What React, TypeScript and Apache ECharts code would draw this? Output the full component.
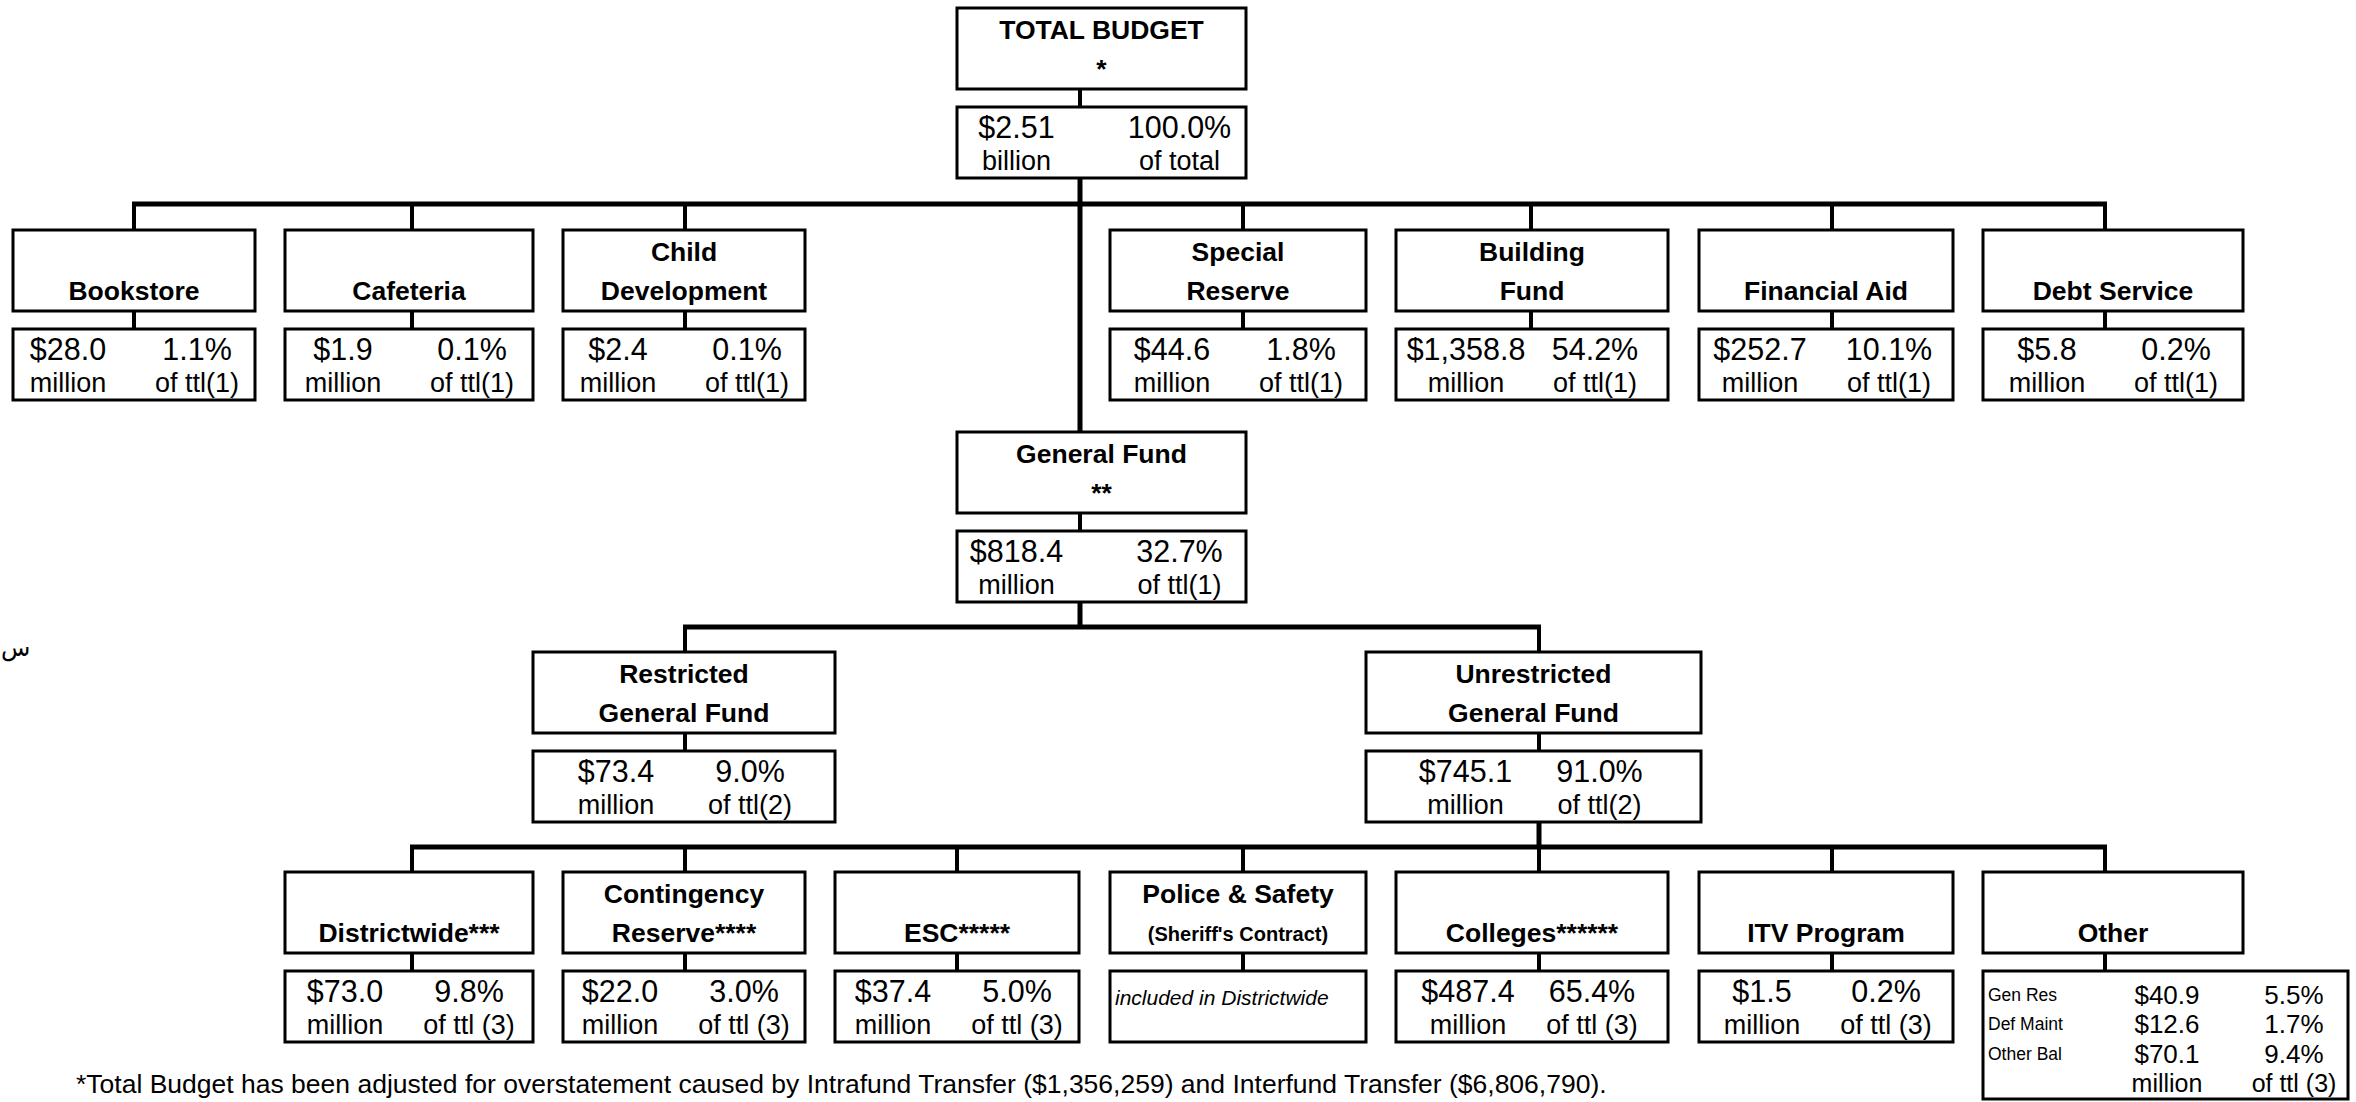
import { useEffect, useRef } from "react";
import * as echarts from "echarts";

// ---------- data ----------
const TOTAL_NAME = ["TOTAL BUDGET", "*"];
const TOTAL_AMOUNT_BILLION = 2.51;
const TOTAL_PCT = 100.0;

const FUND_NAMES = ["Bookstore", "Cafeteria", "Child\nDevelopment", "Special\nReserve", "Building\nFund", "Financial Aid", "Debt Service"];
const FUND_AMOUNTS = [28.0, 1.9, 2.4, 44.6, 1358.8, 252.7, 5.8];
const FUND_PCTS = [1.1, 0.1, 0.1, 1.8, 54.2, 10.1, 0.2];

const GENERAL_NAME = ["General Fund", "**"];
const GENERAL_AMOUNT = 818.4;
const GENERAL_PCT = 32.7;

const SPLIT_NAMES = ["Restricted\nGeneral Fund", "Unrestricted\nGeneral Fund"];
const SPLIT_AMOUNTS = [73.4, 745.1];
const SPLIT_PCTS = [9.0, 91.0];

const UNIT_NAMES = ["Districtwide***", "Contingency\nReserve****", "ESC*****", "Police & Safety\n(Sheriff's Contract)", "Colleges******", "ITV Program", "Other"];
const UNIT_AMOUNTS: (number | null)[] = [73.0, 22.0, 37.4, null, 487.4, 1.5, null];
const UNIT_PCTS: (number | null)[] = [9.8, 3.0, 5.0, null, 65.4, 0.2, null];
const POLICE_NOTE = "included in Districtwide";

const OTHER_LABELS = ["Gen Res", "Def Maint", "Other Bal"];
const OTHER_AMOUNTS = [40.9, 12.6, 70.1];
const OTHER_PCTS = [5.5, 1.7, 9.4];

const FOOTNOTE = "*Total Budget has been adjusted for overstatement caused by Intrafund Transfer ($1,356,259) and Interfund Transfer ($6,806,790).";

// ---------- layout ----------
const W = 2356;
const H = 1102;
const SLOTS: [number, number][] = [[13, 255], [285, 533], [563, 805], [835, 1079], [1110, 1366], [1396, 1668], [1699, 1953], [1983, 2243]];
const FUND_SLOTS = [0, 1, 2, 4, 5, 6, 7];
const FUND_STUB_X = [134, 412, 685, 1243, 1531, 1832, 2105];
const UNIT_SLOTS = [1, 2, 3, 4, 5, 6, 7];
const UNIT_STUB_X = [412, 685, 957, 1243, 1539, 1832, 2105];
const TOP_SPAN: [number, number] = [957, 1246];
const TRUNK_X = 1080;
const SPLIT_SPANS: [number, number][] = [[533, 835], [1366, 1701]];
const SPLIT_STUB_X = [685, 1539];
const TOP_Y = { total: 8, funds: 230, general: 432, split: 652, units: 872 };
const BAR_Y = [204, 627, 847];
const NAME_H = 81;
const GAP = 18;
const VALUE_H = 71;
const OTHER_BOX_RIGHT = 2348;
const OTHER_BOX_BOTTOM = 1099;

const FONT = '"Liberation Sans", Arial, Helvetica, sans-serif';

const f1 = (v: number) => "$" + v.toLocaleString("en-US", { minimumFractionDigits: 1, maximumFractionDigits: 1 });
const p1 = (v: number) => v.toFixed(1) + "%";

type Node = {
  lines: string[];
  left: number;
  right: number;
  top: number;
  stubX: number;
  amt?: string;
  unit?: string;
  pct?: string;
  ref?: string;
  offs: [number, number];
  note?: string;
  other?: boolean;
};

function buildNodes(): Node[] {
  const nodes: Node[] = [];
  nodes.push({
    lines: TOTAL_NAME, left: TOP_SPAN[0], right: TOP_SPAN[1], top: TOP_Y.total, stubX: TRUNK_X,
    amt: "$" + TOTAL_AMOUNT_BILLION.toFixed(2), unit: "billion", pct: p1(TOTAL_PCT), ref: "of total", offs: [-85, 78],
  });
  FUND_NAMES.forEach((n, i) => {
    const s = SLOTS[FUND_SLOTS[i]];
    nodes.push({
      lines: n.split("\n"), left: s[0], right: s[1], top: TOP_Y.funds, stubX: FUND_STUB_X[i],
      amt: f1(FUND_AMOUNTS[i]), unit: "million", pct: p1(FUND_PCTS[i]), ref: "of ttl(1)", offs: [-66, 63],
    });
  });
  nodes.push({
    lines: GENERAL_NAME, left: TOP_SPAN[0], right: TOP_SPAN[1], top: TOP_Y.general, stubX: TRUNK_X,
    amt: f1(GENERAL_AMOUNT), unit: "million", pct: p1(GENERAL_PCT), ref: "of ttl(1)", offs: [-85, 78],
  });
  SPLIT_NAMES.forEach((n, i) => {
    const s = SPLIT_SPANS[i];
    nodes.push({
      lines: n.split("\n"), left: s[0], right: s[1], top: TOP_Y.split, stubX: SPLIT_STUB_X[i],
      amt: f1(SPLIT_AMOUNTS[i]), unit: "million", pct: p1(SPLIT_PCTS[i]), ref: "of ttl(2)", offs: [-68, 66],
    });
  });
  UNIT_NAMES.forEach((n, i) => {
    const s = SLOTS[UNIT_SLOTS[i]];
    const a = UNIT_AMOUNTS[i];
    const p = UNIT_PCTS[i];
    const node: Node = {
      lines: n.split("\n"), left: s[0], right: s[1], top: TOP_Y.units, stubX: UNIT_STUB_X[i], offs: [-64, 60],
    };
    if (a != null && p != null) {
      node.amt = f1(a); node.unit = "million"; node.pct = p1(p); node.ref = "of ttl (3)";
    } else if (n.startsWith("Police")) {
      node.note = POLICE_NOTE;
    } else {
      node.other = true;
    }
    nodes.push(node);
  });
  return nodes;
}

const NODES = buildNodes();

function buildConnectors(): number[][] {
  const c: number[][] = [];
  const valTop = (t: number) => t + NAME_H + GAP;
  const valBot = (t: number) => t + NAME_H + GAP + VALUE_H;
  NODES.forEach((n) => c.push([n.stubX, n.top + NAME_H, n.stubX, valTop(n.top), 4]));
  c.push([TRUNK_X, valBot(TOP_Y.total), TRUNK_X, TOP_Y.general, 5]);
  c.push([Math.min(...FUND_STUB_X) - 2, BAR_Y[0], Math.max(...FUND_STUB_X) + 2, BAR_Y[0], 5]);
  FUND_STUB_X.forEach((x) => c.push([x, BAR_Y[0], x, TOP_Y.funds, 4]));
  c.push([TRUNK_X, valBot(TOP_Y.general), TRUNK_X, BAR_Y[1], 5]);
  c.push([Math.min(...SPLIT_STUB_X) - 2, BAR_Y[1], Math.max(...SPLIT_STUB_X) + 2, BAR_Y[1], 5]);
  SPLIT_STUB_X.forEach((x) => c.push([x, BAR_Y[1], x, TOP_Y.split, 4]));
  c.push([SPLIT_STUB_X[1], valBot(TOP_Y.split), SPLIT_STUB_X[1], BAR_Y[2], 5]);
  c.push([Math.min(...UNIT_STUB_X) - 2, BAR_Y[2], Math.max(...UNIT_STUB_X) + 2, BAR_Y[2], 5]);
  UNIT_STUB_X.forEach((x) => c.push([x, BAR_Y[2], x, TOP_Y.units, 4]));
  return c;
}

const CONNECTORS = buildConnectors();

function txt(x: number, y: number, text: string, size: number, opts: any = {}) {
  return {
    type: "text",
    style: {
      text, x, y,
      fill: "#000",
      fontSize: size,
      fontFamily: FONT,
      fontWeight: opts.bold ? "bold" : "normal",
      fontStyle: opts.italic ? "italic" : "normal",
      align: opts.align || "center",
      verticalAlign: "middle",
    },
  };
}

export default function App() {
  const ref = useRef<HTMLDivElement>(null);
  useEffect(() => {
    document.body.style.margin = "0";
    document.body.style.overflow = "hidden";
    if (!ref.current) return;
    const chart = echarts.init(ref.current, null, { renderer: "svg" });

    const option: any = {
      animation: false,
      backgroundColor: "#ffffff",
      grid: { left: 0, right: 0, top: 0, bottom: 0 },
      xAxis: { type: "value", min: 0, max: W, show: false },
      yAxis: { type: "value", min: 0, max: H, inverse: true, show: false },
      tooltip: { show: false },
      series: [
        {
          type: "custom",
          name: "connectors",
          coordinateSystem: "cartesian2d",
          clip: false,
          silent: true,
          data: CONNECTORS,
          renderItem: (_p: any, api: any) => {
            const a = api.coord([api.value(0), api.value(1)]);
            const b = api.coord([api.value(2), api.value(3)]);
            return {
              type: "line",
              shape: { x1: a[0], y1: a[1], x2: b[0], y2: b[1] },
              style: { stroke: "#000", lineWidth: api.value(4) },
            };
          },
        },
        {
          type: "custom",
          name: "nameBoxes",
          coordinateSystem: "cartesian2d",
          clip: false,
          silent: true,
          data: NODES.map((n, i) => [n.left, n.top, n.right, n.top + NAME_H, i]),
          renderItem: (_p: any, api: any) => {
            const n = NODES[api.value(4)];
            const a = api.coord([api.value(0), api.value(1)]);
            const b = api.coord([api.value(2), api.value(3)]);
            const cx = (a[0] + b[0]) / 2;
            const lines = n.lines.length === 1 ? ["", n.lines[0]] : n.lines;
            const y1 = api.coord([0, n.top + 22])[1];
            const y2 = api.coord([0, n.top + 61])[1];
            const children: any[] = [
              { type: "rect", shape: { x: a[0], y: a[1], width: b[0] - a[0], height: b[1] - a[1] }, style: { fill: "#fff", stroke: "#000", lineWidth: 3 } },
            ];
            if (lines[0]) children.push(txt(cx, y1, lines[0], 26.5, { bold: true }));
            if (lines[1]) {
              const small = lines[1].startsWith("(");
              children.push(txt(cx, small ? y2 + 1 : y2, lines[1], small ? 20 : 26.5, { bold: true }));
            }
            return { type: "group", children };
          },
        },
        {
          type: "custom",
          name: "valueBoxes",
          coordinateSystem: "cartesian2d",
          clip: false,
          silent: true,
          data: NODES.map((n, i) => {
            const t = n.top + NAME_H + GAP;
            return [n.left, t, n.other ? OTHER_BOX_RIGHT : n.right, n.other ? OTHER_BOX_BOTTOM : t + VALUE_H, i];
          }),
          renderItem: (_p: any, api: any) => {
            const n = NODES[api.value(4)];
            const a = api.coord([api.value(0), api.value(1)]);
            const b = api.coord([api.value(2), api.value(3)]);
            const top = api.value(1);
            const yAt = (d: number) => api.coord([0, top + d])[1];
            const children: any[] = [
              { type: "rect", shape: { x: a[0], y: a[1], width: b[0] - a[0], height: b[1] - a[1] }, style: { fill: "#fff", stroke: "#000", lineWidth: 3 } },
            ];
            if (n.amt) {
              const cx = (n.left + n.right) / 2;
              const xl = api.coord([cx + n.offs[0], 0])[0];
              const xr = api.coord([cx + n.offs[1], 0])[0];
              children.push(txt(xl, yAt(20), n.amt, 30.5));
              children.push(txt(xl, yAt(54), n.unit!, 27));
              children.push(txt(xr, yAt(20), n.pct!, 30.5));
              children.push(txt(xr, yAt(54), n.ref!, 27));
            } else if (n.note) {
              children.push(txt(a[0] + 5, yAt(26), n.note, 21, { italic: true, align: "left" }));
            } else if (n.other) {
              const xLab = api.coord([n.left + 5, 0])[0];
              const xAmt = api.coord([n.left + 184, 0])[0];
              const xPct = api.coord([n.left + 311, 0])[0];
              OTHER_LABELS.forEach((lab, i) => {
                const y = yAt(24 + i * 29.3);
                children.push(txt(xLab, y, lab, 17.5, { align: "left" }));
                children.push(txt(xAmt, y, f1(OTHER_AMOUNTS[i]), 26));
                children.push(txt(xPct, y, p1(OTHER_PCTS[i]), 26));
              });
              const y4 = yAt(24 + 3 * 29.3);
              children.push(txt(xAmt, y4, "million", 25));
              children.push(txt(xPct, y4, "of ttl (3)", 25));
            }
            return { type: "group", children };
          },
        },
      ],
      graphic: [
        {
          type: "text",
          left: 76,
          top: 1070,
          silent: true,
          style: { text: FOOTNOTE, fill: "#000", fontSize: 26.5, fontFamily: FONT },
        },
        {
          type: "text",
          left: 1,
          top: 636,
          silent: true,
          style: { text: "س", fill: "#000", fontSize: 24, fontFamily: '"DejaVu Sans", sans-serif' },
        },
      ],
    };

    chart.setOption(option);
    return () => chart.dispose();
  }, []);

  return (
    <div
      ref={ref}
      style={{ position: "relative", width: W, height: H, background: "#fff" }}
    />
  );
}
